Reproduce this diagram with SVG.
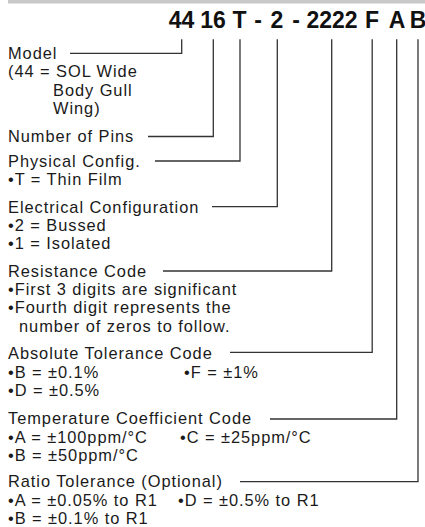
<svg xmlns="http://www.w3.org/2000/svg" width="425" height="527" viewBox="0 0 425 527">
<style>
.t{font-family:"Liberation Sans",Arial,sans-serif;font-size:16.4px;letter-spacing:0.95px;fill:#1a1a1a}
.h{font-family:"Liberation Sans",Arial,sans-serif;font-size:23px;font-weight:bold;fill:#111;text-anchor:middle}
.c{fill:none;stroke:#333;stroke-width:1.3}
</style>
<rect x="8" y="0" width="417" height="3.5" fill="#c8c8c8"/>
<g id="code">
<text class="h" x="181.5" y="28">44</text>
<text class="h" x="213" y="28">16</text>
<text class="h" x="239.5" y="28">T</text>
<text class="h" x="258" y="28">-</text>
<text class="h" x="277" y="28">2</text>
<text class="h" x="296" y="28">-</text>
<text class="h" x="332" y="28">2222</text>
<text class="h" x="372" y="28">F</text>
<text class="h" x="397" y="28">A</text>
<text class="h" x="418" y="28">B</text>
</g>
<g id="connectors">
<polyline class="c" points="70,53.3 181.7,53.3 181.7,39.3"/>
<polyline class="c" points="148,136.5 213.3,136.5 213.3,39.3"/>
<polyline class="c" points="155,161 240,161 240,39.3"/>
<polyline class="c" points="212,206.7 277.3,206.7 277.3,39.3"/>
<polyline class="c" points="163,271 331.7,271 331.7,39.3"/>
<polyline class="c" points="230,352.3 372.2,352.3 372.2,39.3"/>
<polyline class="c" points="270,419 396.7,419 396.7,39.3"/>
<polyline class="c" points="240,481.7 418,481.7 418,39.3"/>
</g>
<g id="model">
<text class="t"><tspan x="8" y="59">Model</tspan><tspan x="8" y="77.3">(44 = SOL Wide</tspan><tspan x="53" y="95.6">Body Gull</tspan><tspan x="53" y="114">Wing)</tspan></text>
</g>
<g id="pins">
<text class="t" x="8" y="141.5">Number of Pins</text>
</g>
<g id="physical">
<text class="t"><tspan x="8" y="166.5">Physical Config.</tspan><tspan x="8" y="184.8">•T = Thin Film</tspan></text>
</g>
<g id="electrical">
<text class="t"><tspan x="8" y="212.5">Electrical Configuration</tspan><tspan x="8" y="231">•2 = Bussed</tspan><tspan x="8" y="249.3">•1 = Isolated</tspan></text>
</g>
<g id="resistance">
<text class="t"><tspan x="8" y="276.5">Resistance Code</tspan><tspan x="8" y="295">•First 3 digits are significant</tspan><tspan x="8" y="313.3">•Fourth digit represents the</tspan><tspan x="19" y="331.6">number of zeros to follow.</tspan></text>
</g>
<g id="absolute">
<text class="t"><tspan x="8" y="359">Absolute Tolerance Code</tspan><tspan x="8" y="377.5">•B = ±0.1%</tspan><tspan x="184" y="377.5">•F = ±1%</tspan><tspan x="8" y="395.8">•D = ±0.5%</tspan></text>
</g>
<g id="temperature">
<text class="t"><tspan x="8" y="424">Temperature Coefficient Code</tspan><tspan x="8" y="442.5">•A = ±100ppm/°C</tspan><tspan x="180" y="442.5">•C = ±25ppm/°C</tspan><tspan x="8" y="460.8">•B = ±50ppm/°C</tspan></text>
</g>
<g id="ratio">
<text class="t"><tspan x="8" y="487">Ratio Tolerance (Optional)</tspan><tspan x="8" y="505.5">•A = ±0.05% to R1</tspan><tspan x="178" y="505.5">•D = ±0.5% to R1</tspan><tspan x="8" y="524">•B = ±0.1% to R1</tspan></text>
</g>
</svg>
